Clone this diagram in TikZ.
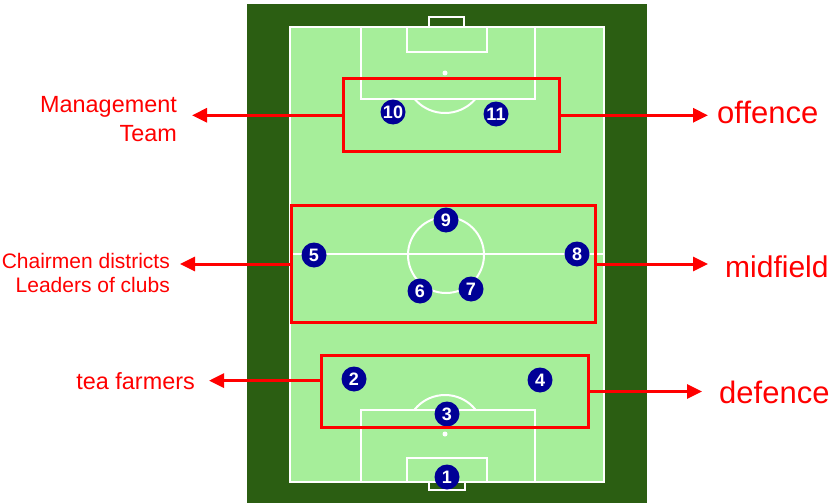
\documentclass[tikz,border=0pt]{standalone}
\usepackage{fontspec}
\setmainfont{Liberation Sans}
\usetikzlibrary{arrows.meta}
\definecolor{pitchdark}{HTML}{2B5E12}
\definecolor{pitchlight}{HTML}{A6EE9A}
\definecolor{shirt}{HTML}{000096}
\definecolor{mark}{HTML}{FF0000}
\begin{document}
\begin{tikzpicture}[x=1pt,y=-1pt,
  pitchline/.style={draw=white,line width=2pt},
  zone/.style={draw=mark,line width=3pt,rectangle,inner sep=0pt,fill=none},
  player/.style={circle,fill=shirt,text=white,minimum size=25pt,inner sep=0pt,
                 font=\fontsize{18}{18}\selectfont\bfseries},
  arr/.style={draw=mark,line width=3pt,-{Triangle[length=15pt,width=14pt]}},
  leftlbl/.style={text=mark,inner ysep=0pt,align=right},
  rightlbl/.style={text=mark,inner ysep=0pt,font=\fontsize{31}{34}\selectfont}]
\useasboundingbox (0,0) rectangle (833,503);
% surround and playing surface
\fill[pitchdark] (247,4) rectangle (647,503);
\fill[pitchlight] (290,27) rectangle (604,482);
\draw[pitchline] (290,27) rectangle (604,482);
% halfway line and centre circle
\draw[pitchline] (290,254) -- (604,254);
\draw[pitchline] (446,255) circle (38);
% top end
\draw[pitchline] (429,27) -- (429,17) -- (464,17) -- (464,27);
\draw[pitchline] (361,27) rectangle (535,99);
\draw[pitchline] (407,27) rectangle (487,52);
\fill[white] (445,73) circle (2.5);
\begin{scope}
  \clip (300,99) rectangle (600,130);
  \draw[pitchline] (445,73) circle (40);
\end{scope}
% bottom end
\draw[pitchline] (429,482) -- (429,490) -- (465,490) -- (465,482);
\draw[pitchline] (361,410) rectangle (535,482);
\draw[pitchline] (407,458) rectangle (487,482);
\fill[white] (445,434) circle (2.5);
\begin{scope}
  \clip (300,380) rectangle (600,410);
  \draw[pitchline] (445,434) circle (39);
\end{scope}
% players
\node[player] (p1) at (447,477) {1};
\node[player] (p2) at (354,379) {2};
\node[player] (p3) at (447,414) {3};
\node[player] (p4) at (540,380) {4};
\node[player] (p5) at (314,255) {5};
\node[player] (p6) at (420,291) {6};
\node[player] (p7) at (471,289) {7};
\node[player] (p8) at (577,254) {8};
\node[player] (p9) at (446,220) {9};
\node[player] (p10) at (393,112) {10};
\node[player] (p11) at (496,114) {11};
% zones
\node[zone,minimum width=216pt,minimum height=73pt] (offbox) at (451.5,115.3) {};
\node[zone,minimum width=304pt,minimum height=117pt] (midbox) at (443.5,264) {};
\node[zone,minimum width=267pt,minimum height=72pt] (defbox) at (455,391.5) {};
% labels (base anchor of a two-line label sits on its last line)
\node[leftlbl,anchor=base east,inner xsep=15pt,font=\fontsize{23.4}{29}\selectfont] (mgmt) at (192,141) {Management\\Team};
\node[leftlbl,anchor=base east,inner xsep=10pt,font=\fontsize{21}{24}\selectfont] (chair) at (180,292) {Chairmen districts\\Leaders of clubs};
\node[leftlbl,anchor=base east,inner xsep=14pt,font=\fontsize{23.4}{26}\selectfont] (tea) at (209,389) {tea farmers};
\node[rightlbl,anchor=base west,inner xsep=9pt] (offlbl) at (708,123) {offence};
\node[rightlbl,anchor=base west,inner xsep=17pt,font=\fontsize{30}{34}\selectfont] (midlbl) at (708,277) {midfield};
\node[rightlbl,anchor=base west,inner xsep=17pt] (deflbl) at (702,403) {defence};
% connectors
\draw[arr] (offbox.west) -- (offbox.west -| mgmt.east);
\draw[arr] (offbox.east) -- (offbox.east -| offlbl.west);
\draw[arr] (midbox.west) -- (midbox.west -| chair.east);
\draw[arr] (midbox.east) -- (midbox.east -| midlbl.west);
\draw[arr] (defbox.west |- tea.east) -- (tea.east);
\draw[arr] (defbox.east) -- (defbox.east -| deflbl.west);
\end{tikzpicture}
\end{document}
